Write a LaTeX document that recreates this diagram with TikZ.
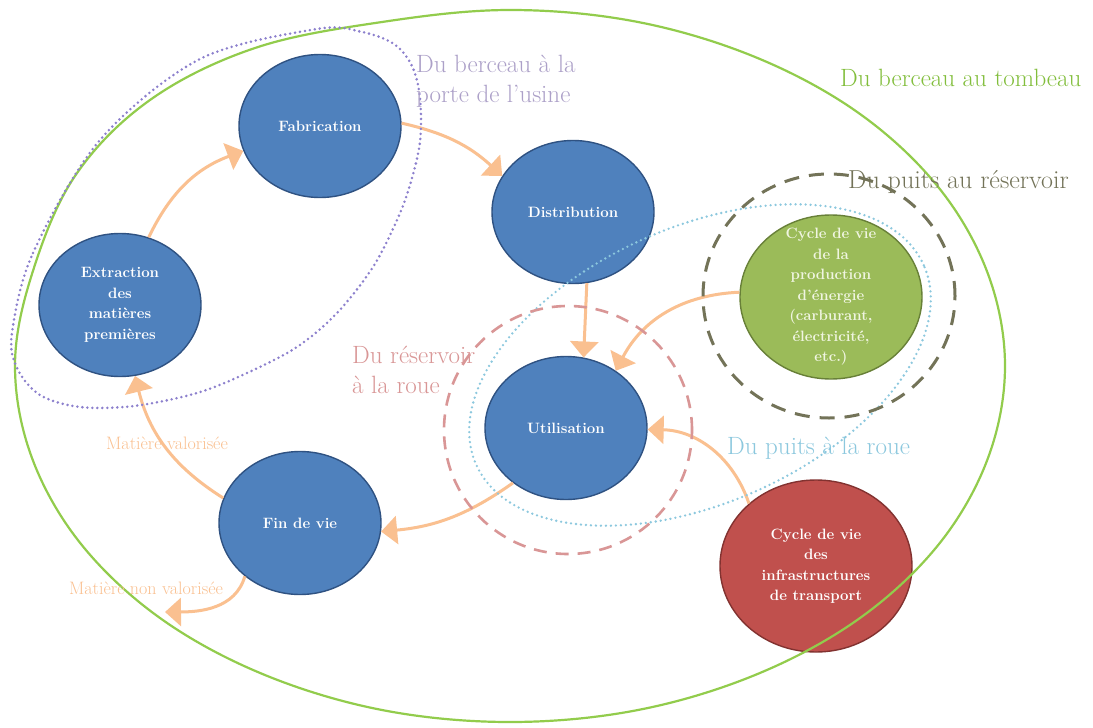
\documentclass[tikz,border=0pt]{standalone}
\usetikzlibrary{shapes.geometric,arrows.meta}

\definecolor{nodeblue}{RGB}{79,129,189}
\definecolor{nodeblueedge}{RGB}{47,82,130}
\definecolor{nodegreen}{RGB}{155,187,89}
\definecolor{nodegreenedge}{RGB}{104,128,56}
\definecolor{nodered}{RGB}{192,80,77}
\definecolor{noderededge}{RGB}{130,50,48}
\definecolor{floworange}{RGB}{250,192,144}
\definecolor{cradlegreen}{RGB}{146,204,76}
\definecolor{cradlelabel}{RGB}{130,190,60}
\definecolor{gatepurple}{RGB}{140,128,205}
\definecolor{gatelabel}{RGB}{172,160,200}
\definecolor{wellolive}{RGB}{115,115,88}
\definecolor{tankpink}{RGB}{217,150,150}
\definecolor{wheelblue}{RGB}{140,200,222}
\definecolor{greentext}{RGB}{240,245,225}

\tikzset{
  stage/.style={ellipse, draw=nodeblueedge, fill=nodeblue, line width=1.4pt,
    minimum width=162pt, minimum height=143pt, inner sep=0pt},
  energybox/.style={ellipse, draw=nodegreenedge, fill=nodegreen, line width=1.4pt,
    minimum width=182pt, minimum height=164pt, inner sep=0pt},
  infrabox/.style={ellipse, draw=noderededge, fill=nodered, line width=1.4pt,
    minimum width=192pt, minimum height=172pt, inner sep=0pt},
  stagetext/.style={text=white, align=center, inner sep=0pt,
    font=\fontsize{15}{20.5}\selectfont\bfseries},
  flowarrow/.style={color=floworange, line width=3pt,
    -{Triangle[length=16pt,width=28pt]}},
  flowlabel/.style={text=floworange, inner sep=0pt, font=\fontsize{18}{20}\selectfont},
  scopelabel/.style={anchor=west, align=left, inner sep=0pt,
    font=\fontsize{25}{29.5}\selectfont},
  purpledots/.style={draw=gatepurple, line width=2.8pt, line cap=round,
    dash pattern=on 0pt off 5pt},
  bluedots/.style={draw=wheelblue, line width=2.6pt, line cap=round,
    dash pattern=on 0pt off 5pt},
  olivedash/.style={draw=wellolive, line width=3pt, dash pattern=on 15pt off 10pt},
  pinkdash/.style={draw=tankpink, line width=2.6pt, dash pattern=on 13pt off 9pt},
  cradleline/.style={draw=cradlegreen, line width=2.2pt}
}

\begin{document}
\begin{tikzpicture}[x=1pt,y=-1pt]
\useasboundingbox[fill=white] (0,0) rectangle (1093,728);

% life-cycle stages
\node[stage] (extr) at (120,305) {};
\node[stage] (fab) at (320,126) {};
\node[stage] (dist) at (573,212) {};
\node[stage] (util) at (566,428) {};
\node[stage] (fin) at (300,523) {};
\node[energybox] (energy) at (831,297) {};
\node[infrabox] (infra) at (816,566) {};

% material and energy flows
\draw[flowarrow] (extr.67) to[bend left=22] (fab.198);
\draw[flowarrow] (fab.2) to[bend left=15] (dist.153);
\draw[flowarrow] (dist.281) -- (util.76);
\draw[flowarrow] (energy.177) to[bend right=30] (util.49);
\draw[flowarrow] (infra.137) to[bend right=35] (util.-1);
\draw[flowarrow] (util.226) to[bend left=15] (fin.-6);
\draw[flowarrow] (fin.162) to[bend left=22] (extr.-78);
\coordinate (waste) at (165,612);
\draw[flowarrow] (fin.224) to[out=50, in=156, relative] (waste);

% cradle-to-grave boundary
\draw[cradleline] plot[smooth cycle, tension=0.6] coordinates {
  (1005,366) (988,458) (939,544) (860,618) (757.5,674) (638,710)
  (510,722) (382,710) (262.5,674) (160,618) (81,544) (32,458)
  (15,366) (32,274) (75,176) (150,100) (255,48) (382,22)
  (510,10) (638,22) (757.5,58) (860,114) (939,188) (988,274)};

% cradle-to-gate boundary
\draw[purpledots] plot[smooth cycle, tension=0.55] coordinates {
  (12,333) (33,253) (100,140) (200,59) (317,29) (362,32) (394,44)
  (412,66) (420,98) (420,142) (410,185) (397,220) (373,267)
  (337,313) (297,347) (247,373) (197,393) (134,406) (80,407)
  (40,395) (17,368)};

% well, tank and wheel boundaries
\draw[bluedots, rotate around={24:(700,365)}] (700,365) ellipse [x radius=245pt, y radius=138pt];
\draw[olivedash] (829,296) ellipse [x radius=126pt, y radius=122pt];
\draw[pinkdash] (568,430) circle [radius=124pt];

% stage names
\node[stagetext] (extrtext) at (extr) {Extraction\\des\\matières\\premières};
\node[stagetext] (fabtext) at (fab) {Fabrication};
\node[stagetext] (disttext) at (dist) {Distribution};
\node[stagetext] (utiltext) at (util) {Utilisation};
\node[stagetext] (fintext) at (fin) {Fin de vie};
\node[stagetext, text=greentext] (energytext) at (energy)
  {Cycle de vie\\de la\\production\\d’énergie\\(carburant,\\électricité,\\etc.)};
\node[stagetext] (infratext) at (infra)
  {Cycle de vie\\des\\infrastructures\\de transport};

% flow labels
\node[flowlabel] (recycled) at (167,443) {Matière valorisée};
\node[flowlabel] (wasted) at (146,588) {Matière non valorisée};

% boundary labels
\node[scopelabel, text=gatelabel] (gatetext) at (416,81) {Du berceau à la\\porte de l’usine};
\node[scopelabel, text=cradlelabel] (cradletext) at (840,78) {Du berceau au tombeau};
\node[scopelabel, text=wellolive, font=\fontsize{26}{30}\selectfont] (welltext) at (848,182) {Du puits au réservoir};
\node[scopelabel, text=tankpink] (tanktext) at (352,370) {Du réservoir\\à la roue};
\node[scopelabel, text=wheelblue] (wheeltext) at (727,448) {Du puits à la roue};
\end{tikzpicture}
\end{document}
